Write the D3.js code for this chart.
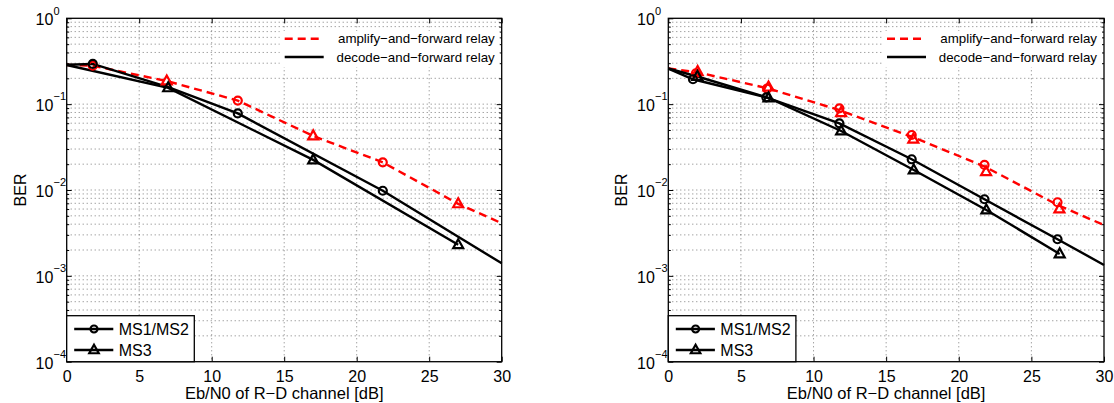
<!DOCTYPE html>
<html>
<head>
<meta charset="utf-8">
<script src="https://cdn.jsdelivr.net/npm/d3@7"></script>
<style>
  body { margin: 0; background: #fff; }
  svg { display: block; font-family: "Liberation Sans", Arial, Helvetica, sans-serif; }
</style>
</head>
<body>
<svg id="chart" width="1114" height="403"></svg>
<script>
// ---- axis content ----
const xTicks = [0, 5, 10, 15, 20, 25, 30];
const yDecades = [0, -1, -2, -3, -4];
const xLabel = "Eb/N0 of R\u2212D channel [dB]";
const yLabel = "BER";
const relayLabels = ["amplify\u2212and\u2212forward relay", "decode\u2212and\u2212forward relay"];
const userLabels = ["MS1/MS2", "MS3"];

// ---- left panel ----
// amplify-and-forward curve (shared by all users)
const leftAfX   = [0, 1.8, 6.9, 11.8, 17, 21.8, 27, 30];
const leftAfBer = [0.286, 0.28, 0.186, 0.11, 0.0426, 0.021, 0.0069, 0.0041];
// decode-and-forward, MS1/MS2
const leftDf12X   = [0, 1.8, 7, 11.8, 21.8, 30];
const leftDf12Ber = [0.288, 0.294, 0.158, 0.078, 0.0098, 0.0014];
// decode-and-forward, MS3
const leftDf3X   = [0, 7, 17, 27];
const leftDf3Ber = [0.286, 0.155, 0.0224, 0.0023];
// simulated points
const leftAfCircX = [1.8, 11.8, 21.8];
const leftAfCircBer = [0.28, 0.11, 0.021];
const leftAfTriX = [6.9, 17, 27];
const leftAfTriBer = [0.186, 0.0426, 0.0069];
const leftDfCircX = [1.8, 11.8, 21.8];
const leftDfCircBer = [0.294, 0.078, 0.0098];
const leftDfTriX = [7, 17, 27];
const leftDfTriBer = [0.155, 0.0224, 0.0023];

// ---- right panel ----
const rightAfX   = [0, 2, 6.85, 11.8, 16.8, 21.8, 26.8, 30];
const rightAfBer = [0.26, 0.235, 0.153, 0.085, 0.0415, 0.0187, 0.0067, 0.0039];
const rightDf12X   = [0, 1.7, 6.75, 11.78, 16.76, 21.77, 26.8, 30];
const rightDf12Ber = [0.26, 0.195, 0.12, 0.0598, 0.0228, 0.0078, 0.00267, 0.00134];
const rightDf3X   = [0, 2, 6.9, 11.9, 16.9, 21.9, 26.95];
const rightDf3Ber = [0.26, 0.21, 0.118, 0.0487, 0.0171, 0.00585, 0.0018];
const rightAfCircX = [1.9, 6.8, 11.78, 16.76, 21.77, 26.8];
const rightAfCircBer = [0.229, 0.152, 0.0895, 0.0437, 0.0196, 0.0072];
const rightAfTriX = [2.02, 6.9, 11.9, 16.87, 21.88, 26.93];
const rightAfTriBer = [0.239, 0.158, 0.0795, 0.039, 0.0163, 0.006];
const rightDfCircX = [1.7, 6.75, 11.78, 16.76, 21.77, 26.8];
const rightDfCircBer = [0.195, 0.12, 0.0598, 0.0228, 0.0078, 0.00267];
const rightDfTriX = [2, 6.9, 11.9, 16.9, 21.9, 26.95];
const rightDfTriBer = [0.21, 0.118, 0.0487, 0.0171, 0.00585, 0.0018];

const zip = (xs, ys) => xs.map((v, i) => ({ x: v, y: ys[i] }));

const panels = [
  {
    left: 66.7, right: 501.7,
    lines: [
      { pts: zip(leftAfX, leftAfBer), color: "#ff0000", dash: "8,5" },
      { pts: zip(leftDf12X, leftDf12Ber), color: "#000", dash: null },
      { pts: zip(leftDf3X, leftDf3Ber), color: "#000", dash: null }
    ],
    marks: [
      { pts: zip(leftAfCircX, leftAfCircBer), shape: "circle", color: "#ff0000" },
      { pts: zip(leftAfTriX, leftAfTriBer), shape: "tri", color: "#ff0000" },
      { pts: zip(leftDfCircX, leftDfCircBer), shape: "circle", color: "#000" },
      { pts: zip(leftDfTriX, leftDfTriBer), shape: "tri", color: "#000" }
    ]
  },
  {
    left: 668.3, right: 1104,
    lines: [
      { pts: zip(rightAfX, rightAfBer), color: "#ff0000", dash: "8,5" },
      { pts: zip(rightDf12X, rightDf12Ber), color: "#000", dash: null },
      { pts: zip(rightDf3X, rightDf3Ber), color: "#000", dash: null }
    ],
    marks: [
      { pts: zip(rightAfCircX, rightAfCircBer), shape: "circle", color: "#ff0000" },
      { pts: zip(rightAfTriX, rightAfTriBer), shape: "tri", color: "#ff0000" },
      { pts: zip(rightDfCircX, rightDfCircBer), shape: "circle", color: "#000" },
      { pts: zip(rightDfTriX, rightDfTriBer), shape: "tri", color: "#000" }
    ]
  }
];

const TOP = 18.3, BOTTOM = 361.7;
const LW = 2.4;
const FONT = "'Liberation Sans', Arial, sans-serif";
const svg = d3.select("#chart");

function triPath(cx, cy, s) {
  const h = s * 0.9;
  return `M${cx},${cy - h * 0.62}L${cx + s / 2},${cy + h * 0.38}L${cx - s / 2},${cy + h * 0.38}Z`;
}

function drawMarker(g, shape, cx, cy, color, size) {
  if (shape === "circle") {
    g.append("circle").attr("cx", cx).attr("cy", cy).attr("r", size)
      .attr("fill", "none").attr("stroke", color).attr("stroke-width", 2.2);
  } else {
    g.append("path").attr("d", triPath(cx, cy, size * 2.5))
      .attr("fill", "none").attr("stroke", color).attr("stroke-width", 2.2)
      .attr("stroke-linejoin", "miter");
  }
}

panels.forEach(p => {
  const x = d3.scaleLinear().domain([0, 30]).range([p.left, p.right]);
  const y = d3.scaleLog().domain([1e-4, 1]).range([BOTTOM, TOP]);
  const g = svg.append("g");

  // all log-grid values inside the box
  const minorVals = [];
  const majorVals = yDecades.map(e => Math.pow(10, e));
  for (let e = -4; e < 0; e++) {
    for (let m = 2; m <= 9; m++) minorVals.push(m * Math.pow(10, e));
  }

  // dotted grid
  const grid = g.append("g").attr("stroke", "#000").attr("stroke-opacity", 0.65)
    .attr("stroke-width", 0.8).attr("stroke-dasharray", "1,3");
  xTicks.slice(1, -1).forEach(v => {
    grid.append("line").attr("x1", x(v)).attr("x2", x(v)).attr("y1", TOP).attr("y2", BOTTOM);
  });
  minorVals.concat(majorVals.slice(1, -1)).forEach(v => {
    grid.append("line").attr("x1", p.left).attr("x2", p.right).attr("y1", y(v)).attr("y2", y(v));
  });

  // ticks (inward on all four sides)
  const axisStyle = sel => {
    sel.select(".domain").remove();
    sel.selectAll(".tick line").attr("stroke", "#000").attr("stroke-width", 1);
  };
  g.append("g").attr("transform", `translate(0,${BOTTOM})`)
    .call(d3.axisBottom(x).tickValues(xTicks).tickSize(-5).tickPadding(10).tickFormat(d3.format("d")))
    .call(axisStyle)
    .call(s => s.selectAll(".tick text").attr("font-size", 16).attr("fill", "#000")
      .attr("font-family", FONT).attr("y", 9));
  g.append("g").attr("transform", `translate(0,${TOP})`)
    .call(d3.axisTop(x).tickValues(xTicks).tickSize(-5).tickFormat(""))
    .call(axisStyle);

  const yMajLeft = g.append("g").attr("transform", `translate(${p.left},0)`)
    .call(d3.axisLeft(y).tickValues(majorVals).tickSize(-5).tickFormat(""))
    .call(axisStyle);
  yMajLeft.selectAll(".tick text").remove();
  g.append("g").attr("transform", `translate(${p.left},0)`)
    .call(d3.axisLeft(y).tickValues(minorVals).tickSize(-2.5).tickFormat(""))
    .call(axisStyle);
  g.append("g").attr("transform", `translate(${p.right},0)`)
    .call(d3.axisRight(y).tickValues(majorVals).tickSize(-5).tickFormat(""))
    .call(axisStyle);
  g.append("g").attr("transform", `translate(${p.right},0)`)
    .call(d3.axisRight(y).tickValues(minorVals).tickSize(-2.5).tickFormat(""))
    .call(axisStyle);

  // power-of-ten labels
  yMajLeft.selectAll(".tick").each(function (d) {
    const e = Math.round(Math.log10(d));
    const tick = d3.select(this);
    tick.append("text")
      .attr("x", -13.4).attr("y", 6.3)
      .attr("text-anchor", "end").attr("fill", "#000").attr("font-size", 16)
      .attr("font-family", FONT)
      .text("10");
    tick.append("text")
      .attr("x", -13.2).attr("y", -4.2)
      .attr("text-anchor", "start").attr("fill", "#000").attr("font-size", 11)
      .attr("font-family", FONT)
      .text(e === 0 ? "0" : "\u2212" + Math.abs(e));
  });

  // curves
  const line = d3.line().x(d => x(d.x)).y(d => y(d.y));
  const curves = g.append("g");
  p.lines.forEach(l => {
    curves.append("path").attr("d", line(l.pts)).attr("fill", "none")
      .attr("stroke", l.color).attr("stroke-width", LW)
      .attr("stroke-dasharray", l.dash);
  });
  const marks = g.append("g");
  p.marks.forEach(m => {
    m.pts.forEach(d => drawMarker(marks, m.shape, x(d.x), y(d.y), m.color, 4));
  });

  // frame
  g.append("rect").attr("x", p.left).attr("y", TOP)
    .attr("width", p.right - p.left).attr("height", BOTTOM - TOP)
    .attr("fill", "none").attr("stroke", "#000").attr("stroke-width", 1.3);

  // relay-type legend (top right, no border)
  const lg = g.append("g");
  lg.append("rect").attr("x", p.right - 222).attr("y", 31).attr("width", 220).attr("height", 36)
    .attr("fill", "#fff");
  [{ color: "#ff0000", dash: "8,5" }, { color: "#000", dash: null }].forEach((s, i) => {
    const ly = 38.7 + i * 18.3;
    lg.append("line").attr("x1", p.right - 217).attr("x2", p.right - 178)
      .attr("y1", ly).attr("y2", ly).attr("stroke", s.color).attr("stroke-width", LW)
      .attr("stroke-dasharray", s.dash);
    lg.append("text").attr("x", p.right - 7).attr("y", ly + 4.5)
      .attr("text-anchor", "end").attr("font-size", 13.3).attr("fill", "#000")
      .text(relayLabels[i]);
  });

  // user legend (bottom left, boxed)
  const ug = g.append("g");
  ug.append("rect").attr("x", p.left).attr("y", 315.7).attr("width", 127.6).attr("height", BOTTOM - 315.7)
    .attr("fill", "#fff").attr("stroke", "#000").attr("stroke-width", 1.3);
  ["circle", "tri"].forEach((shape, i) => {
    const ly = 329 + i * 21;
    ug.append("line").attr("x1", p.left + 7.5).attr("x2", p.left + 46.6)
      .attr("y1", ly).attr("y2", ly).attr("stroke", "#000").attr("stroke-width", LW);
    drawMarker(ug, shape, p.left + 27.3, ly, "#000", shape === "circle" ? 3.5 : 3.8);
    ug.append("text").attr("x", p.left + 52).attr("y", ly + 5.8)
      .attr("font-size", 16).attr("fill", "#000").text(userLabels[i]);
  });

  // axis titles
  g.append("text").attr("x", (p.left + p.right) / 2).attr("y", 399)
    .attr("text-anchor", "middle").attr("font-size", 16.5).attr("fill", "#000").text(xLabel);
  g.append("text").attr("transform", `translate(${p.left - 41},${(TOP + BOTTOM) / 2}) rotate(-90)`)
    .attr("text-anchor", "middle").attr("font-size", 16).attr("fill", "#000").text(yLabel);
});
</script>
</body>
</html>
